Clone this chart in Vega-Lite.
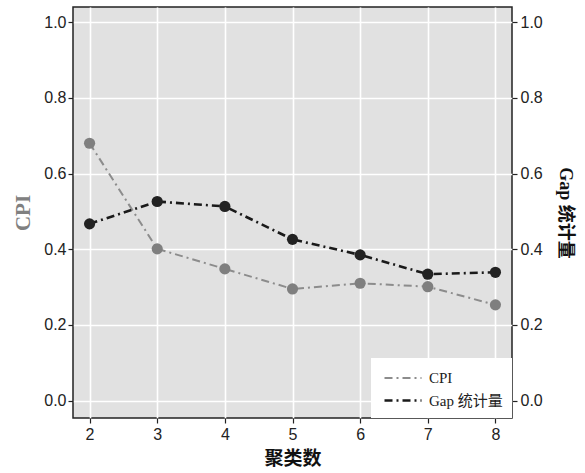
{
  "$schema": "https://vega.github.io/schema/vega-lite/v6.json",
  "width": 439,
  "height": 411,
  "autosize": {"type": "none"},
  "padding": {"left": 73, "top": 7, "right": 73, "bottom": 55},
  "background": "white",
  "config": {
    "view": {"fill": "#e1e1e1", "stroke": "#222222", "strokeWidth": 1.5},
    "axis": {
      "labelFont": "Liberation Sans",
      "labelFontSize": 16,
      "labelColor": "#222222",
      "tickColor": "#222222",
      "tickSize": 5,
      "tickWidth": 1.2,
      "domain": false,
      "gridColor": "#ffffff",
      "gridWidth": 1.6,
      "gridOpacity": 1,
      "titleFont": "Liberation Serif, Noto Sans CJK SC",
      "titleFontWeight": "bold"
    },
    "legend": {
      "orient": "bottom-right",
      "offset": 0,
      "fillColor": "#ffffff",
      "padding": 9,
      "labelFont": "Liberation Serif, Noto Sans CJK SC",
      "labelFontSize": 15,
      "labelColor": "#222222",
      "labelOffset": 26,
      "symbolSize": 400,
      "symbolStrokeWidth": 2,
      "symbolType": "M-0.7,0H3",
      "rowPadding": 3,
      "cornerRadius": 0
    }
  },
  "data": {
    "values": [
      {"k": 2, "s": "CPI", "v": 0.680},
      {"k": 3, "s": "CPI", "v": 0.401},
      {"k": 4, "s": "CPI", "v": 0.348},
      {"k": 5, "s": "CPI", "v": 0.295},
      {"k": 6, "s": "CPI", "v": 0.310},
      {"k": 7, "s": "CPI", "v": 0.301},
      {"k": 8, "s": "CPI", "v": 0.253},
      {"k": 2, "s": "Gap 统计量", "v": 0.467},
      {"k": 3, "s": "Gap 统计量", "v": 0.526},
      {"k": 4, "s": "Gap 统计量", "v": 0.513},
      {"k": 5, "s": "Gap 统计量", "v": 0.426},
      {"k": 6, "s": "Gap 统计量", "v": 0.385},
      {"k": 7, "s": "Gap 统计量", "v": 0.334},
      {"k": 8, "s": "Gap 统计量", "v": 0.339}
    ]
  },
  "layer": [
    {
      "layer": [
        {
          "mark": {"type": "line"},
          "encoding": {
            "x": {
              "field": "k", "type": "quantitative",
              "scale": {"domain": [1.755, 8.245], "nice": false, "zero": false},
              "axis": {"values": [2, 3, 4, 5, 6, 7, 8], "format": "d", "title": "聚类数", "titleFont": "Noto Sans CJK SC", "titleFontSize": 19, "titleColor": "#111111", "titlePadding": 7, "labelPadding": 3}
            },
            "y": {
              "field": "v", "type": "quantitative",
              "scale": {"domain": [-0.046, 1.04], "nice": false, "zero": false},
              "axis": {"values": [0, 0.2, 0.4, 0.6, 0.8, 1.0], "format": ".1f", "title": "CPI", "titleColor": "#808080", "titleFontSize": 21, "titlePadding": 10, "labelPadding": 2}
            },
            "color": {
              "field": "s", "type": "nominal",
              "scale": {"domain": ["CPI", "Gap 统计量"], "range": ["#8c8c8c", "#1a1a1a"]},
              "legend": {"title": null}
            },
            "strokeDash": {
              "field": "s", "type": "nominal",
              "scale": {"domain": ["CPI", "Gap 统计量"], "range": [[8, 4, 2, 4], [8, 4, 2, 4]]},
              "legend": {"title": null}
            },
            "strokeWidth": {
              "field": "s", "type": "nominal",
              "scale": {"domain": ["CPI", "Gap 统计量"], "range": [2, 2.6]},
              "legend": null
            }
          }
        },
        {
          "mark": {"type": "circle", "size": 125, "opacity": 1},
          "encoding": {
            "x": {"field": "k", "type": "quantitative"},
            "y": {"field": "v", "type": "quantitative"},
            "color": {"condition": {"test": "datum.s === 'CPI'", "value": "#7f7f7f"}, "value": "#222222"}
          }
        }
      ]
    },
    {
      "transform": [{"filter": "datum.s !== 'CPI'"}],
      "mark": {"type": "circle", "opacity": 0},
      "encoding": {
        "x": {"field": "k", "type": "quantitative"},
        "y": {
          "field": "v", "type": "quantitative",
          "scale": {"domain": [-0.046, 1.04], "nice": false, "zero": false},
          "axis": {"orient": "right", "grid": false, "values": [0, 0.2, 0.4, 0.6, 0.8, 1.0], "format": ".1f", "title": "Gap 统计量", "titleColor": "#111111", "titleFontSize": 18, "titlePadding": 13, "labelPadding": 3}
        }
      }
    }
  ],
  "resolve": {"scale": {"y": "independent"}}
}
